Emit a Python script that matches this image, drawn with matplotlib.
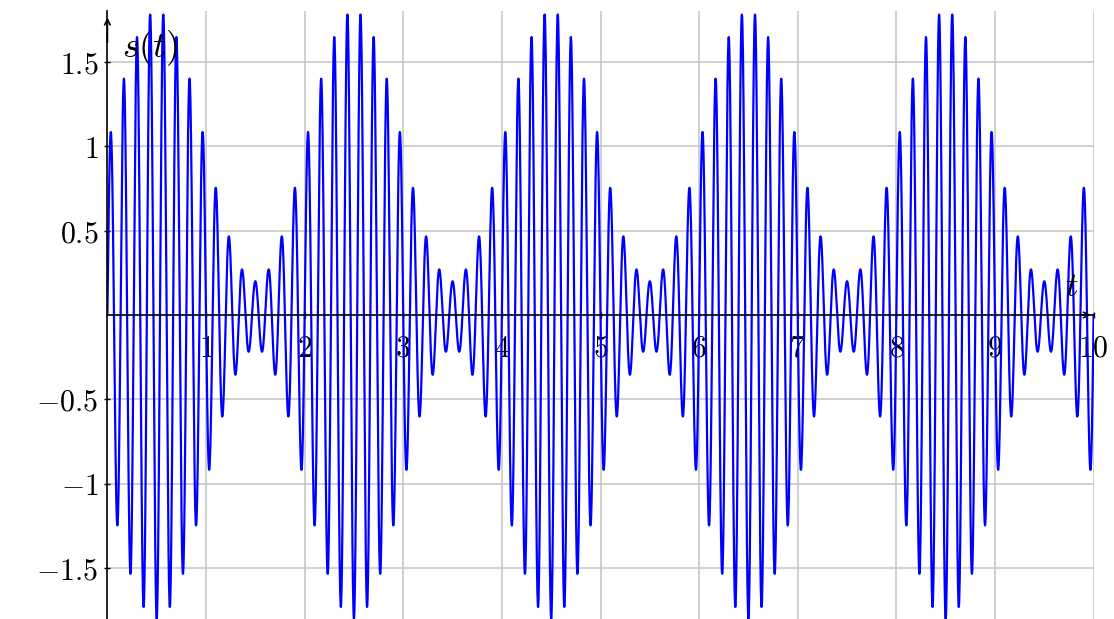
import numpy as np
import matplotlib
matplotlib.use("Agg")
import matplotlib.pyplot as plt

# signal parameters (amplitude-modulated carrier)
carrier_freq = 7.5    # Hz, 15 extrema per envelope period
mod_freq = 0.5        # Hz, envelope period 2
mod_depth = 0.8       # envelope goes 0.2 .. 1.8
t_start, t_end = 0.0, 10.0
n_samples = 4001

x_ticks = [1, 2, 3, 4, 5, 6, 7, 8, 9, 10]
y_ticks = [-1.5, -1, -0.5, 0.5, 1, 1.5]
y_tick_labels = ["$-1.5$", "$-1$", "$-0.5$", "$0.5$", "$1$", "$1.5$"]

t = np.linspace(t_start, t_end, n_samples)
s = (1 + mod_depth * np.sin(2 * np.pi * mod_freq * t)) * np.sin(2 * np.pi * carrier_freq * t)

plt.rcParams['mathtext.fontset'] = 'cm'

fig = plt.figure(figsize=(11.14, 6.19), dpi=100)
ax = fig.add_axes([107.4 / 1114, 0.0005, 986.2 / 1114, 607.4 / 619])

ax.plot(t, s, color=(0, 0, 1), lw=1.6, zorder=3)

ax.set_xlim(t_start, t_end)
ax.set_ylim(-1.8, 1.8)

ax.set_xticks(x_ticks)
ax.set_xticklabels([f"${v}$" for v in x_ticks])
ax.set_yticks(y_ticks)
ax.set_yticklabels(y_tick_labels)
ax.tick_params(axis='both', direction='inout', length=5, width=1.0,
               labelsize=21.5, color='black')
ax.tick_params(axis='x', pad=11)
ax.tick_params(axis='y', pad=4)

ax.grid(True, color='#c8c8c8', lw=1.2, zorder=0)
ax.set_axisbelow(True)

# axis lines through the origin
for side in ['top', 'right']:
    ax.spines[side].set_visible(False)
ax.spines['left'].set_position(('data', 0))
ax.spines['bottom'].set_position(('data', 0))
ax.spines['left'].set_linewidth(1.2)
ax.spines['bottom'].set_linewidth(1.2)
ax.spines['left'].set_zorder(4)
ax.spines['bottom'].set_zorder(4)

# arrow heads
ax.annotate('', xy=(t_end, 0), xytext=(t_end - 0.15, 0),
            arrowprops=dict(arrowstyle='->', lw=1.2, color='black'),
            annotation_clip=False, zorder=5)
ax.annotate('', xy=(0, 1.78), xytext=(0, 1.6),
            arrowprops=dict(arrowstyle='->', lw=1.2, color='black'),
            annotation_clip=False, zorder=5)

ax.text(9.78, 0.07, "$t$", fontsize=25, ha='center', va='bottom')
ax.text(0.15, 1.58, "$s(t)$", fontsize=26, ha='left', va='center')

fig.savefig("out.png", dpi=100)
